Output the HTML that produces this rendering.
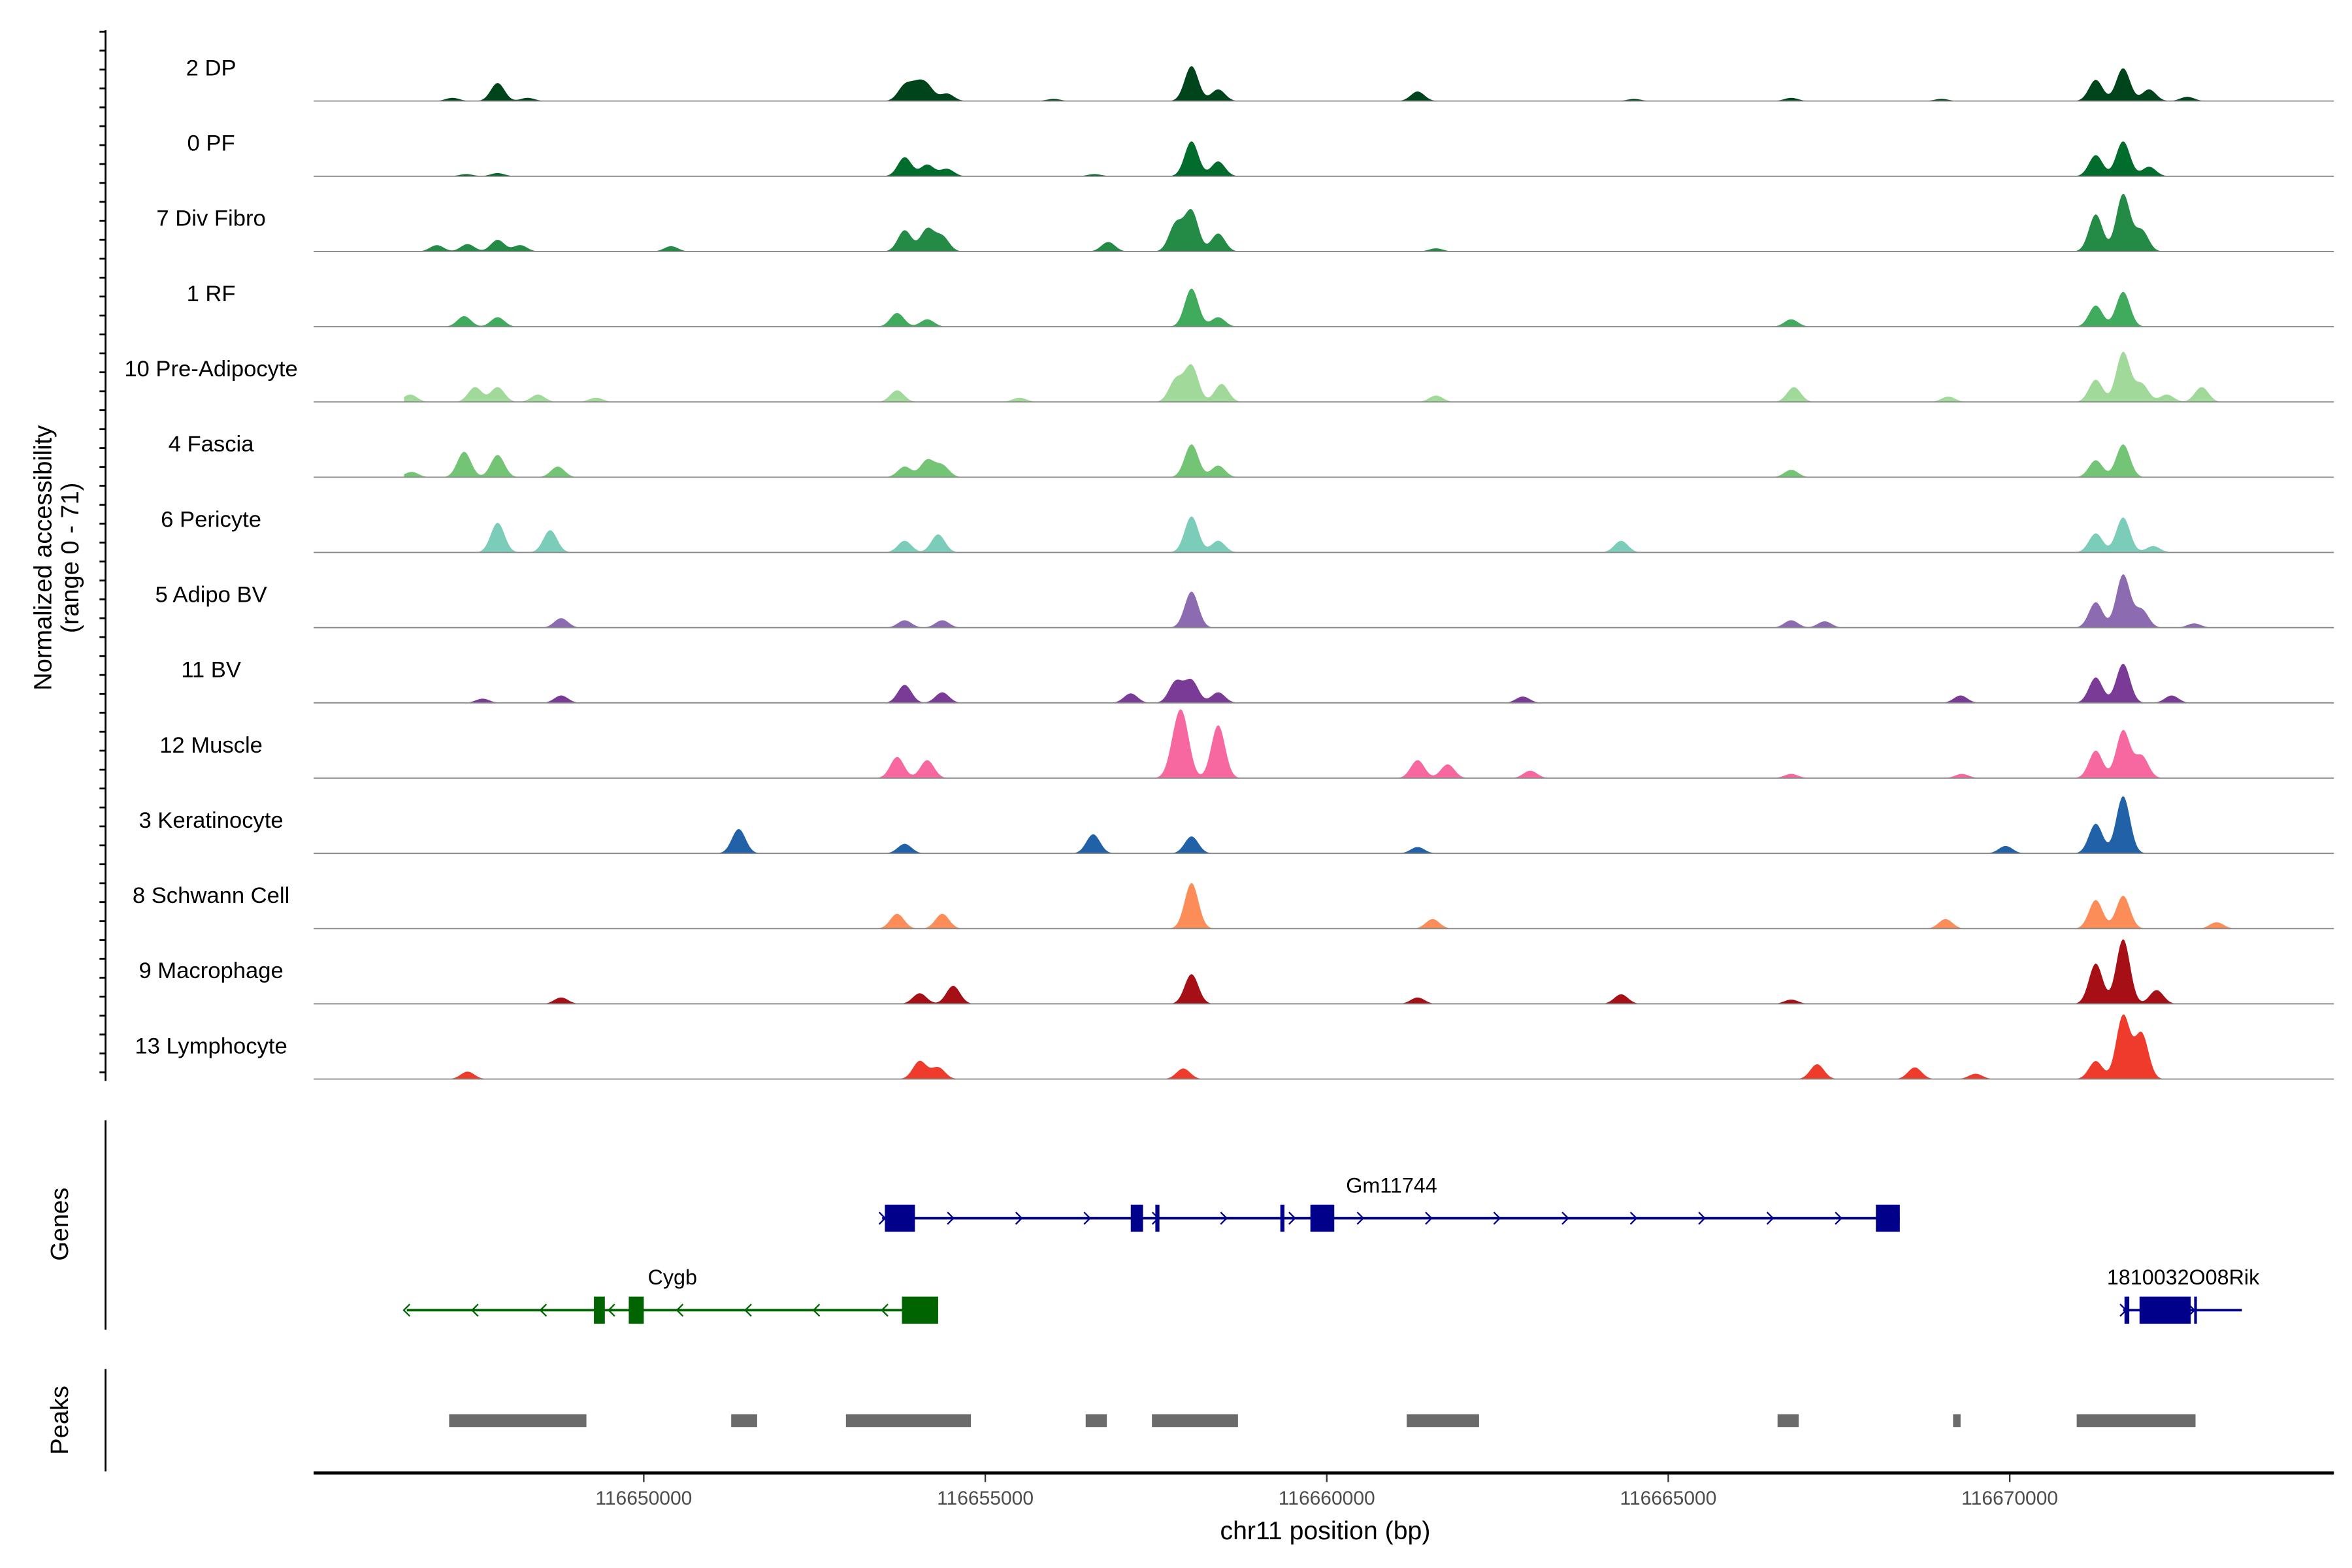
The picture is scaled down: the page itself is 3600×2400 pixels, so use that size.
<!DOCTYPE html>
<html><head><meta charset="utf-8"><style>
html,body{margin:0;padding:0;background:#fff}
svg{display:block}
text{font-family:"Liberation Sans",sans-serif}
</style></head><body>
<svg id="chart" width="3600" height="2400" viewBox="0 0 1560 1040" xmlns="http://www.w3.org/2000/svg">
<g id="tracks"></g>
<g id="yaxis"></g>
<text transform="translate(34,370) rotate(-90)" text-anchor="middle" font-size="16.5">Normalized accessibility</text>
<text transform="translate(52,370) rotate(-90)" text-anchor="middle" font-size="16.5">(range 0 - 71)</text>
<g id="genes"></g>
<line x1="70" y1="743" x2="70" y2="882" stroke="#000" stroke-width="1.2"/>
<text transform="translate(45,812) rotate(-90)" text-anchor="middle" font-size="16.5">Genes</text>
<g id="peaks"></g>
<line x1="70" y1="908" x2="70" y2="976" stroke="#000" stroke-width="1.2"/>
<text transform="translate(45,942) rotate(-90)" text-anchor="middle" font-size="16.5">Peaks</text>
<g id="xaxis"></g>
<text x="879" y="1021" text-anchor="middle" font-size="17">chr11 position (bp)</text>
</svg>
<script>
const NS="http://www.w3.org/2000/svg";
const trackNames=["2 DP","0 PF","7 Div Fibro","1 RF","10 Pre-Adipocyte","4 Fascia","6 Pericyte","5 Adipo BV","11 BV","12 Muscle","3 Keratinocyte","8 Schwann Cell","9 Macrophage","13 Lymphocyte"];
const trackColors=["#00441b","#006d2c","#238b45","#41ab5d","#a1d99b","#74c476","#7bccb8","#8c6bb1","#7a3b96","#f768a1","#2161a8","#fc8d59","#a50f15","#ef3b2c"];
// peaks: [center kb, value]
const peaksDP=[[116647.2,3],[116647.86,17],[116648.3,3],[116653.82,14],[116654.0,13],[116654.15,13],[116654.44,7],[116656.0,2],[116658.02,33],[116658.41,11],[116661.33,9],[116664.5,2],[116666.8,3],[116669.0,2],[116671.26,20],[116671.66,31],[116672.04,11],[116672.6,4]];
const peaksPF=[[116647.4,2],[116647.86,3],[116653.82,18],[116654.15,11],[116654.44,7],[116656.6,2],[116658.02,33],[116658.41,14],[116671.26,20],[116671.66,33],[116672.04,9]];
const peaksDiv=[[116646.97,6],[116647.42,7],[116647.86,11],[116648.19,6],[116650.4,5],[116653.82,20],[116654.15,21],[116654.37,14],[116656.8,9],[116657.79,26],[116658.02,38],[116658.41,17],[116661.6,3],[116671.26,35],[116671.66,54],[116671.93,20]];
const peaksRF=[[116647.37,10],[116647.86,9],[116653.71,13],[116654.15,7],[116658.02,36],[116658.41,9],[116666.8,7],[116671.26,20],[116671.66,33]];
const peaksPre=[[116646.58,7],[116647.53,14],[116647.86,14],[116648.45,7],[116649.3,4],[116653.71,11],[116655.5,4],[116657.79,21],[116658.02,34],[116658.46,17],[116661.6,6],[116666.84,14],[116669.1,5],[116671.26,21],[116671.66,47],[116671.93,17],[116672.3,7],[116672.81,14]];
const peaksFascia=[[116646.6,5],[116647.37,24],[116647.86,21],[116648.74,10],[116653.82,10],[116654.15,16],[116654.37,11],[116658.02,31],[116658.41,11],[116666.8,7],[116671.26,16],[116671.66,31]];
const peaksPeri=[[116647.86,28],[116648.63,21],[116653.82,11],[116654.31,17],[116658.02,34],[116658.41,11],[116664.31,11],[116671.26,18],[116671.66,33],[116672.1,6]];
const peaksAdipo=[[116648.79,9],[116653.82,7],[116654.37,7],[116658.02,34],[116666.8,7],[116667.29,6],[116671.26,24],[116671.66,50],[116671.93,17],[116672.7,4]];
const peaksBV=[[116647.64,4],[116648.79,7],[116653.82,17],[116654.37,10],[116657.13,9],[116657.79,20],[116658.02,21],[116658.41,10],[116662.87,6],[116669.28,7],[116671.26,24],[116671.66,37],[116672.37,7]];
const peaksMuscle=[[116653.71,20],[116654.15,17],[116657.79,30],[116657.9,45],[116658.41,50],[116661.33,17],[116661.77,13],[116662.98,7],[116666.8,4],[116669.3,4],[116671.26,26],[116671.66,45],[116671.93,21]];
const peaksKera=[[116651.39,23],[116653.82,9],[116656.58,18],[116658.02,16],[116661.33,6],[116669.94,7],[116671.26,28],[116671.66,54]];
const peaksSchwann=[[116653.71,14],[116654.37,14],[116658.02,43],[116661.55,9],[116669.06,9],[116671.26,27],[116671.66,31],[116673.03,6]];
const peaksMacro=[[116648.79,6],[116654.04,10],[116654.53,17],[116658.02,28],[116661.33,6],[116664.31,9],[116666.8,4],[116671.26,38],[116671.66,61],[116672.15,13]];
const peaksLymph=[[116647.42,7],[116654.04,17],[116654.31,11],[116657.9,10],[116667.18,14],[116668.61,11],[116669.5,5],[116671.26,17],[116671.66,60],[116671.93,43]];
const trackPeaks=[peaksDP,peaksPF,peaksDiv,peaksRF,peaksPre,peaksFascia,peaksPeri,peaksAdipo,peaksBV,peaksMuscle,peaksKera,peaksSchwann,peaksMacro,peaksLymph];
const xTicks=[116650000,116655000,116660000,116665000,116670000];
const peakRegions=[[116647.15,116649.16],[116651.28,116651.66],[116652.96,116654.79],[116656.47,116656.78],[116657.44,116658.70],[116661.17,116662.23],[116666.60,116666.91],[116669.17,116669.28],[116670.98,116672.72]];

const X0=427, PXKB=45.3;
function x(kb){return X0+(kb-116650)*PXKB;}
const TOP=67, STEP=49.9, MAXV=71, TH=49.9;
function y(i,v){return TOP+i*STEP - v/MAXV*TH;}

const tg=document.getElementById('tracks');
trackNames.forEach((nm,i)=>{
  const base=TOP+i*STEP;
  const pk=trackPeaks[i];
  let d=`M208,${base} L268,${base}`;
  for(let px=268;px<=1490;px+=1){
    const kb=116650+(px-X0)/PXKB;
    let v=0;
    pk.forEach(p=>{const z=(kb-p[0])/0.1; v+=p[1]*Math.exp(-0.5*z*z);});
    d+=` L${px},${y(i,Math.min(v,MAXV)).toFixed(2)}`;
  }
  d+=` L1490,${base} L1548,${base} Z`;
  const a=document.createElementNS(NS,'path');
  a.setAttribute('d',d);a.setAttribute('fill',trackColors[i]);
  
  
  tg.appendChild(a);
  const l=document.createElementNS(NS,'line');
  l.setAttribute('x1',208);l.setAttribute('x2',1548);l.setAttribute('y1',base);l.setAttribute('y2',base);
  l.setAttribute('stroke','#888');l.setAttribute('stroke-width','0.8');
  
  
  tg.appendChild(l);
  const t=document.createElementNS(NS,'text');
  t.setAttribute('x',140);t.setAttribute('y',base-17);t.setAttribute('text-anchor','middle');t.setAttribute('font-size','15');
  t.textContent=nm;
  
  
  tg.appendChild(t);
});
const ya=document.getElementById('yaxis');
let yd='M70,20 L70,717';
for(let yy=21;yy<=717;yy+=12.55){yd+=` M66,${yy.toFixed(1)} L70,${yy.toFixed(1)}`;}
const yp=document.createElementNS(NS,'path');
yp.setAttribute('d',yd);yp.setAttribute('stroke','#000');yp.setAttribute('stroke-width','1.2');yp.setAttribute('fill','none');


ya.appendChild(yp);

const gg=document.getElementById('genes');
function gene(name,yc,s,e,exons,col,dir,lx,ly){
  let h=`<line x1="${x(s)}" x2="${x(e)}" y1="${yc}" y2="${yc}" stroke="${col}" stroke-width="1.6"/>`;
  exons.forEach(ex=>{h+=`<rect x="${x(ex[0])}" y="${yc-9}" width="${Math.max(1.5,x(ex[1])-x(ex[0]))}" height="18" fill="${col}"/>`;});
  for(let px=x(s);px<=x(e)+1;px+=45.3){
    const a=dir>0?`M${px-2},${yc-4} L${px+2},${yc} L${px-2},${yc+4}`:`M${px+2},${yc-4} L${px-2},${yc} L${px+2},${yc+4}`;
    h+=`<path d="${a}" stroke="${col}" fill="none" stroke-width="1"/>`;
  }
  h+=`<text x="${lx}" y="${ly}" text-anchor="middle" font-size="14">${name}</text>`;
  const g=document.createElementNS(NS,'g');
  g.innerHTML=h;
  
  
  gg.appendChild(g);
}
gene('Gm11744',808,116653.49,116668.39,[[116653.53,116653.97],[116657.13,116657.31],[116657.49,116657.55],[116659.32,116659.38],[116659.76,116660.11],[116668.04,116668.39]],'#00008b',1,923,791);
gene('Cygb',869,116646.53,116654.31,[[116649.27,116649.43],[116649.78,116650.0],[116653.78,116654.31]],'#006400',-1,446,852);
gene('1810032O08Rik',869,116671.66,116673.40,[[116671.68,116671.75],[116671.9,116672.65],[116672.7,116672.74]],'#00008b',1,1448,852);

const pg=document.getElementById('peaks');
peakRegions.forEach(p=>{
  const r=document.createElementNS(NS,'rect');
  r.setAttribute('x',x(p[0]));r.setAttribute('width',x(p[1])-x(p[0]));r.setAttribute('y',938);r.setAttribute('height',8.5);r.setAttribute('fill','#6b6b6b');
  
  
  pg.appendChild(r);
});
const xa=document.getElementById('xaxis');
const ax=document.createElementNS(NS,'line');
ax.setAttribute('x1',208);ax.setAttribute('x2',1548);ax.setAttribute('y1',977);ax.setAttribute('y2',977);ax.setAttribute('stroke','#000');ax.setAttribute('stroke-width','2');


xa.appendChild(ax);
xTicks.forEach(t=>{
  const px=x(t/1000);
  const l=document.createElementNS(NS,'line');
  l.setAttribute('x1',px);l.setAttribute('x2',px);l.setAttribute('y1',978);l.setAttribute('y2',983);l.setAttribute('stroke','#333');
  
  
  xa.appendChild(l);
  const tx=document.createElementNS(NS,'text');
  tx.setAttribute('x',px);tx.setAttribute('y',998);tx.setAttribute('text-anchor','middle');tx.setAttribute('font-size','13');tx.setAttribute('fill','#4d4d4d');
  tx.textContent=t;
  
  
  xa.appendChild(tx);
});
</script>
</body></html>
